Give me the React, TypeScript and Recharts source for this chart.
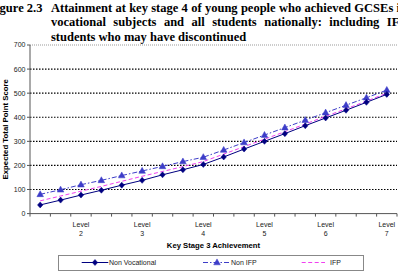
import React from "react";
import { LineChart, Line, XAxis, YAxis, ReferenceLine, Legend } from "recharts";

const categories = ["", "", "Level 2", "", "", "Level 3", "", "", "Level 4", "", "", "Level 5", "", "", "Level 6", "", "", "Level 7"];
const nonVocational = [36, 56, 77, 97, 118, 138, 161, 182, 204, 235, 268, 300, 332, 365, 397, 429, 462, 495];
const nonIfp = [80, 99, 120, 138, 158, 177, 196, 216, 234, 264, 295, 326, 357, 388, 419, 450, 481, 513];
const ifp = [53, 73, 93, 113, 134, 155, 175, 195, 216, 247, 278, 309, 340, 372, 404, 435, 467, 500];
const yTicks = [0, 100, 200, 300, 400, 500, 600, 700];
const seriesNames = ["Non Vocational", "Non IFP", "IFP"];

const NAVY = "#000080";
const BLUE = "#3d3dc8";
const PINK = "#f040f0";
const SANS = "'Liberation Sans', Arial, sans-serif";
const SERIF = "'Liberation Serif', 'Times New Roman', serif";

const rows = categories.map((c, i) => ({
  x: i + 0.5,
  cat: c,
  nv: nonVocational[i],
  nonIfp: nonIfp[i],
  ifp: ifp[i],
}));

const xTicks: number[] = [];
for (let i = 0; i <= categories.length; i++) xTicks.push(i);
categories.forEach((c, i) => {
  if (c) xTicks.push(i + 0.5);
});
xTicks.sort((a, b) => a - b);

const Diamond = ({ cx, cy }: { cx: number; cy: number }) => (
  <polygon points={`${cx},${cy - 3} ${cx + 2.7},${cy} ${cx},${cy + 3} ${cx - 2.7},${cy}`} fill={NAVY} stroke={NAVY} strokeWidth={0.5} />
);
const Triangle = ({ cx, cy }: { cx: number; cy: number }) => (
  <polygon points={`${cx},${cy - 3.6} ${cx + 3.3},${cy + 2.3} ${cx - 3.3},${cy + 2.3}`} fill={BLUE} stroke={BLUE} strokeWidth={0.5} />
);

const XTick = (props: any) => {
  const { x, y, payload } = props;
  const v = payload.value;
  if (Number.isInteger(v)) {
    return <line x1={x} x2={x} y1={y} y2={y + 3} stroke="#555" strokeWidth={1} />;
  }
  const label = categories[Math.floor(v)] || "";
  const [w, n] = label.split(" ");
  return (
    <text x={x} textAnchor="middle" fontSize={7} fontFamily={SANS} fill="#222">
      <tspan x={x} y={y + 13}>{w}</tspan>
      <tspan x={x} y={y + 22}>{n}</tspan>
    </text>
  );
};

const yLabel = (props: any) => {
  const vb = props.viewBox || { x: 0, y: 45, width: 30, height: 168 };
  const cx = vb.x + 8.5;
  const cy = vb.y + vb.height / 2;
  return (
    <text x={cx} y={cy} transform={`rotate(-90, ${cx}, ${cy})`} textAnchor="middle" fontSize={7.8} fontWeight="bold" fontFamily={SANS} fill="#000">
      Expected Total Point Score
    </text>
  );
};

const xLabel = (props: any) => {
  const vb = props.viewBox || { x: 30, y: 213, width: 367, height: 36 };
  return (
    <text x={vb.x + vb.width / 2} y={vb.y + 34.3} textAnchor="middle" fontSize={7.7} fontWeight="bold" fontFamily={SANS} fill="#000">
      Key Stage 3 Achievement
    </text>
  );
};

const renderLegend = () => (
  <svg width={306} height={16} style={{ display: "block" }}>
    <rect x={0.5} y={0.5} width={305} height={15} fill="#fff" stroke="#888" strokeWidth={1} />
    <line x1={23.7} x2={50.3} y1={7.5} y2={7.5} stroke={NAVY} strokeWidth={1} />
    <Diamond cx={37} cy={7.5} />
    <text x={51} y={10} fontSize={7} fontFamily={SANS} fill="#222">{seriesNames[0]}</text>
    <line x1={145} x2={172} y1={7.5} y2={7.5} stroke={BLUE} strokeWidth={1} strokeDasharray="5 2 1.5 2" />
    <Triangle cx={159} cy={7.5} />
    <text x={173} y={10} fontSize={7} fontFamily={SANS} fill="#222">{seriesNames[1]}</text>
    <line x1={243.7} x2={267} y1={7.5} y2={7.5} stroke={PINK} strokeWidth={1} strokeDasharray="4 2.5" />
    <text x={272} y={10} fontSize={7} fontFamily={SANS} fill="#222">{seriesNames[2]}</text>
  </svg>
);

const titleStyle: React.CSSProperties = {
  position: "absolute",
  fontFamily: SERIF,
  fontWeight: "bold",
  fontSize: 12.5,
  lineHeight: "14.5px",
  whiteSpace: "nowrap",
  color: "#000",
};

export default function App() {
  return (
    <div style={{ position: "absolute", left: 0, top: 0, width: 398, height: 277, overflow: "hidden", background: "#fff" }}>
      <div style={{ position: "absolute", left: 0, top: 0 }}>
        <LineChart width={398} height={277} data={rows} margin={{ top: 45, right: 1, left: 0, bottom: 27.4 }}>
          {yTicks.slice(1, -1).map((t) => (
            <ReferenceLine key={t} y={t} stroke="#000" strokeWidth={1.2} strokeDasharray="1.5 1.5" />
          ))}
          <ReferenceLine y={700} stroke="#999" strokeWidth={1} strokeDasharray="1 1" />
          <XAxis
            dataKey="x"
            type="number"
            domain={[0, categories.length]}
            ticks={xTicks}
            interval={0}
            tick={<XTick />}
            tickLine={false}
            tickSize={0}
            tickMargin={0}
            height={36}
            axisLine={{ stroke: "#555", strokeWidth: 1 }}
            label={xLabel}
          />
          <YAxis
            domain={[0, 700]}
            ticks={yTicks}
            interval={0}
            width={30}
            tickSize={3}
            tickMargin={1.5}
            tick={{ fontSize: 7, fontFamily: SANS, fill: "#222" }}
            tickLine={{ stroke: "#555" }}
            axisLine={{ stroke: "#555", strokeWidth: 1 }}
            label={yLabel}
          />
          <Legend verticalAlign="middle" align="center" layout="horizontal" wrapperStyle={{ left: 58, top: 255, width: 306, height: 16 }} content={renderLegend} />
          <Line type="linear" dataKey="ifp" name={seriesNames[2]} stroke={PINK} strokeWidth={1} strokeDasharray="4 2.5" dot={false} isAnimationActive={false} />
          <Line
            type="linear"
            dataKey="nonIfp"
            name={seriesNames[1]}
            stroke={BLUE}
            strokeWidth={1}
            strokeDasharray="5 2 1.5 2"
            dot={(p: any) => <Triangle key={`t${p.index}`} cx={p.cx} cy={p.cy} />}
            isAnimationActive={false}
          />
          <Line
            type="linear"
            dataKey="nv"
            name={seriesNames[0]}
            stroke={NAVY}
            strokeWidth={1}
            dot={(p: any) => <Diamond key={`d${p.index}`} cx={p.cx} cy={p.cy} />}
            isAnimationActive={false}
          />
        </LineChart>
      </div>
      <div style={{ ...titleStyle, left: -11.5, top: 0.5 }}>Figure 2.3</div>
      <div style={{ ...titleStyle, left: 51, top: 0.5, width: 356, textAlign: "justify", textAlignLast: "justify" }}>
        Attainment at key stage 4 of young people who achieved GCSEs in
      </div>
      <div style={{ ...titleStyle, left: 51, top: 15, width: 356, textAlign: "justify", textAlignLast: "justify" }}>
        vocational subjects and all students nationally: including IFP
      </div>
      <div style={{ ...titleStyle, left: 51, top: 29.5 }}>students who may have discontinued</div>
    </div>
  );
}
